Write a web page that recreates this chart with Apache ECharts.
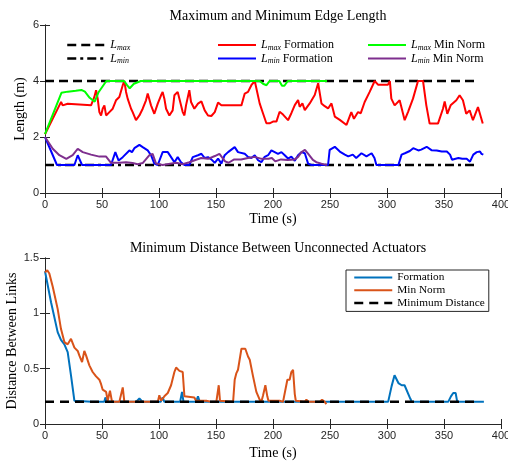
<!DOCTYPE html>
<html>
<head>
<meta charset="utf-8">
<script src="https://cdn.jsdelivr.net/npm/echarts@6/dist/echarts.min.js"></script>
<style>
  html, body { margin: 0; padding: 0; background: #fff; }
  #chart { width: 508px; height: 464px; }
</style>
</head>
<body>
<div id="chart"></div>
<script>
// top panel: edge length (m) vs time (s)
const limT = [0, 378]
const lmaxY = [4, 4]
const lminY = [1, 1]

const fmaxT = [0, 12.6, 14.1, 15.5, 19.9, 21.4, 40.4, 43.3, 44.8, 46.2, 47.7, 49.2, 50.6, 52.1, 53.6, 56.5, 59.4, 62.3, 65.2, 68.2, 69.6, 71.1, 72.5, 74, 75.5, 76.9, 79.8, 82.8, 85.7, 88.6, 90.1, 93, 95.9, 98.9, 101.8, 103.2, 104.7, 106.2, 109.1, 112, 113.5, 116.4, 117.9, 120.8, 122.3, 123.7, 126.6, 128.1, 131, 134.2, 137.2, 140.1, 143, 145.9, 148.9, 151.8, 154.7, 172.3, 175.2, 178.1, 181, 184, 185.4, 188.3, 191.2, 194.2, 197, 200, 203, 205.8, 208.8, 213.2, 216.1, 219.1, 222, 223.4, 225.8, 227.9, 232.2, 236.6, 239.6, 241, 242.5, 245.4, 248.3, 251.3, 254.2, 258.6, 264.5, 268.7, 271, 274.6, 277, 280.4, 284.8, 289.2, 292.1, 300.9, 302.5, 303.8, 306.7, 311.1, 315.5, 318.4, 322.8, 327.2, 331.6, 334.5, 337.4, 344.7, 349.1, 350.6, 352.9, 355.8, 360.8, 363.7, 366.6, 369.5, 372.5, 375.4, 379.8, 381.5, 384]
const fmaxY = [2.1, 3.13, 3.25, 3.13, 3.19, 3.13, 3.13, 3.43, 3.67, 3.37, 2.89, 2.77, 3.01, 3.13, 2.77, 2.89, 3.01, 3.31, 3.43, 3.85, 4.0, 3.61, 3.37, 3.31, 3.01, 2.89, 2.6, 2.77, 3.01, 3.31, 3.55, 3.13, 2.83, 3.19, 3.49, 3.61, 3.37, 3.01, 2.77, 2.95, 3.49, 3.61, 3.37, 2.89, 2.77, 3.13, 3.67, 3.25, 3.01, 3.19, 3.27, 2.95, 2.77, 2.75, 2.89, 3.23, 3.13, 3.13, 3.55, 3.61, 3.85, 4.0, 4.0, 3.2, 2.85, 2.49, 2.49, 2.55, 2.55, 2.9, 2.8, 2.6, 2.85, 3.14, 3.32, 3.08, 3.2, 2.96, 3.2, 3.5, 3.92, 3.92, 3.2, 3.1, 3.02, 3.2, 2.73, 2.61, 2.43, 2.89, 2.65, 2.89, 2.85, 3.25, 3.61, 4.0, 3.87, 3.87, 4.0, 3.37, 3.13, 3.31, 2.6, 2.89, 3.37, 4.0, 4.0, 3.13, 2.48, 2.48, 3.01, 3.27, 2.83, 3.13, 3.31, 3.49, 3.31, 2.83, 2.95, 2.6, 3.07, 3.0, 2.48]

const fminT = [0, 10.5, 25.8, 28.7, 32.5, 57.9, 61.7, 64.6, 68.2, 74, 76.3, 78.4, 82.8, 85.7, 90.1, 93, 95.9, 98.9, 103.2, 107.7, 110.6, 113.5, 116.4, 119.3, 122.3, 126.6, 129.6, 131.3, 134.2, 137.2, 140.1, 143, 145.9, 148.9, 151.8, 154.7, 157.6, 160.6, 166.4, 169.3, 175.2, 178.1, 181, 184, 186.9, 189.8, 192.7, 195.7, 198.6, 201.5, 204.4, 207.4, 210.3, 213.2, 216.1, 219.1, 222, 224.9, 227.9, 230.8, 233.7, 248.3, 249.7, 254.2, 258.6, 263, 266, 270, 273, 277.6, 282, 286.5, 289, 290.7, 310, 312.8, 315.7, 320, 323, 327.5, 330, 334.8, 339, 343.6, 348, 352.5, 355.3, 357, 358, 362.6, 366, 369.9, 372.8, 375.7, 378.7, 381.6, 382.8, 384.5]
const fminY = [2.0, 1.0, 1.0, 1.35, 1.0, 1.0, 1.46, 1.16, 1.28, 1.52, 1.46, 1.6, 1.72, 1.64, 1.52, 1.35, 1.05, 1.0, 1.46, 1.46, 1.28, 1.1, 1.28, 1.1, 1.0, 1.0, 1.28, 1.29, 1.35, 1.4, 1.25, 1.28, 1.2, 1.08, 1.23, 1.05, 1.35, 1.46, 1.64, 1.46, 1.4, 1.29, 1.25, 1.35, 1.17, 1.1, 1.29, 1.35, 1.52, 1.46, 1.4, 1.46, 1.35, 1.23, 1.3, 1.15, 1.35, 1.46, 1.42, 1.05, 1.0, 1.0, 1.54, 1.65, 1.48, 1.37, 1.31, 1.37, 1.25, 1.42, 1.31, 1.42, 1.25, 1.0, 1.0, 1.37, 1.42, 1.5, 1.6, 1.52, 1.55, 1.65, 1.53, 1.52, 1.48, 1.48, 1.37, 1.19, 1.25, 1.25, 1.22, 1.22, 1.12, 1.37, 1.46, 1.48, 1.4, 1.37]

const nmaxT = [0, 14.4, 20, 27, 31.9, 35, 39.2, 43.6, 47, 53.8, 69.4, 72, 74.3, 78, 84, 188.4, 191.2, 194.3, 197, 205.5, 207.9, 210, 213, 247.4]
const nmaxY = [2.1, 3.58, 3.62, 3.65, 3.68, 3.62, 3.4, 3.26, 3.6, 4.0, 4.0, 3.85, 3.74, 3.9, 4.0, 4.0, 3.9, 3.85, 4.0, 4.0, 3.83, 3.83, 4.0, 4.0]

const nminT = [0, 6.8, 12.6, 18.7, 24.3, 28.7, 33.1, 40.4, 47.7, 53.6, 57.9, 65.2, 71.1, 76.9, 81.3, 85.7, 91.6, 94.4, 97.4, 103.2, 115, 120.8, 126.6, 131.3, 137, 143, 149, 153, 158, 161, 166, 172, 178, 184, 190, 196, 199, 202, 207, 213, 219, 222, 225, 228, 230.9, 235, 238, 242.5, 247.4]
const nminY = [2.0, 1.58, 1.35, 1.22, 1.35, 1.58, 1.46, 1.37, 1.3, 1.3, 1.08, 1.08, 1.1, 1.07, 1.03, 1.07, 1.35, 1.4, 1.05, 1.0, 1.08, 1.03, 1.1, 1.17, 1.25, 1.22, 1.32, 1.4, 1.13, 1.08, 1.2, 1.2, 1.25, 1.29, 1.22, 1.22, 1.25, 1.13, 1.2, 1.18, 1.2, 1.29, 1.46, 1.54, 1.4, 1.18, 1.1, 1.05, 1.0]

// bottom panel: min distance between unconnected actuators
const distT = [0, 5.3, 11.1, 14, 17, 19.9, 22.8, 25.8, 27.2, 41, 41.8, 45, 52, 53, 54.5, 79.8, 82.8, 85.7, 101.5, 103.2, 104.7, 118.5, 120.2, 121.5, 132.5, 134.2, 135.7, 301, 304, 306.6, 310, 312.9, 315.4, 320.4, 321.8, 353.7, 356.1, 358.1, 360.2, 361.6, 385]
const distY = [1.38, 1.1, 0.83, 0.76, 0.72, 0.65, 0.44, 0.21, 0.2, 0.2, 0.21, 0.2, 0.2, 0.24, 0.2, 0.2, 0.23, 0.2, 0.2, 0.24, 0.2, 0.2, 0.29, 0.2, 0.2, 0.25, 0.2, 0.2, 0.34, 0.44, 0.37, 0.35, 0.35, 0.23, 0.2, 0.2, 0.25, 0.28, 0.28, 0.2, 0.2]

const normT = [0, 2, 3.8, 6.8, 11.1, 14, 17, 19.9, 22.8, 25.8, 28.7, 30.1, 32.5, 34.5, 36, 38.9, 41.8, 44.8, 47.7, 49.2, 50.6, 53.6, 55, 57, 58.8, 65.2, 68.2, 69.6, 98.9, 100.3, 101.8, 104.7, 107.7, 110.6, 113.5, 115, 117.9, 120.8, 122.3, 123.7, 131, 132.5, 141.5, 145.9, 150.3, 152.4, 153.5, 165, 166.4, 167.9, 169.3, 172.3, 173.7, 175.7, 178.1, 179.6, 182.5, 185.4, 188.3, 189.8, 191.3, 193.3, 195, 196, 205.8, 207.4, 208.8, 212.6, 214.6, 216.1, 217.6, 219.1, 220, 227.9, 229.3, 231, 240.9, 243, 245.4, 246.8]
const normY = [1.37, 1.39, 1.36, 1.24, 1.04, 0.86, 0.74, 0.72, 0.77, 0.69, 0.66, 0.62, 0.56, 0.66, 0.62, 0.53, 0.47, 0.43, 0.4, 0.36, 0.31, 0.29, 0.21, 0.3, 0.2, 0.2, 0.33, 0.2, 0.2, 0.26, 0.21, 0.25, 0.28, 0.35, 0.47, 0.51, 0.48, 0.47, 0.25, 0.24, 0.24, 0.21, 0.21, 0.2, 0.2, 0.35, 0.21, 0.2, 0.4, 0.46, 0.49, 0.68, 0.69, 0.68, 0.61, 0.58, 0.43, 0.29, 0.22, 0.2, 0.26, 0.35, 0.25, 0.21, 0.21, 0.22, 0.2, 0.4, 0.4, 0.47, 0.49, 0.27, 0.21, 0.2, 0.22, 0.2, 0.2, 0.22, 0.2, 0.18]

const minDistY = [0.2, 0.2]

const topYTicks = [0, 2, 4, 6]
const botYTicks = [0, 0.5, 1, 1.5]
const xTicks = [0, 50, 100, 150, 200, 250, 300, 350, 400]

const serif = 'Liberation Serif'
const sans = 'Liberation Sans'
const axisColor = '#262626'

function zip(t, y) {
  return t.map((v, i) => [v, y[i]])
}

function xAxisOpt(grid, pos, withLabel, gap) {
  return {
    type: 'value',
    gridIndex: grid,
    position: pos,
    min: xTicks[0],
    max: xTicks[xTicks.length - 1],
    interval: 50,
    splitLine: { show: false },
    axisLine: { show: true, lineStyle: { color: axisColor, width: 1 } },
    axisTick: { show: true, inside: true, length: 5, lineStyle: { color: axisColor } },
    axisLabel: { show: withLabel, color: axisColor, fontFamily: sans, fontSize: 11, margin: 6 },
    name: withLabel ? 'Time (s)' : '',
    nameLocation: 'middle',
    nameGap: gap || 0,
    nameMoveOverlap: false,
    nameTextStyle: { fontFamily: serif, fontSize: 14, color: '#000' }
  }
}

function yAxisOpt(grid, pos, ticks, name, gap, withLabel) {
  return {
    type: 'value',
    gridIndex: grid,
    position: pos,
    min: ticks[0],
    max: ticks[ticks.length - 1],
    interval: ticks[1] - ticks[0],
    splitLine: { show: false },
    axisLine: { show: true, lineStyle: { color: axisColor, width: 1 } },
    axisTick: { show: true, inside: true, length: 5, lineStyle: { color: axisColor } },
    axisLabel: { show: withLabel, color: axisColor, fontFamily: sans, fontSize: 11, margin: 6 },
    name: withLabel ? name : '',
    nameLocation: 'middle',
    nameGap: gap,
    nameMoveOverlap: false,
    nameTextStyle: { fontFamily: serif, fontSize: 14, color: '#000' }
  }
}

function line(name, t, y, color, width, dash, xi) {
  return {
    name: name,
    type: 'line',
    xAxisIndex: xi,
    yAxisIndex: xi,
    data: zip(t, y),
    symbol: 'none',
    lineStyle: { color: color, width: width, type: dash || 'solid' },
    itemStyle: { color: color }
  }
}

const rich = {
  i: { fontFamily: serif, fontStyle: 'italic', fontSize: 12, color: '#000' },
  s: { fontFamily: serif, fontStyle: 'italic', fontSize: 8, color: '#000', padding: [5, 0, 0, 0] },
  r: { fontFamily: serif, fontSize: 12, color: '#000' }
}

function fmtL(name) {
  const m = name.match(/^L(max|min)(.*)$/)
  if (!m) return name
  return '{i|L}{s|' + m[1] + '}{r|' + m[2] + '}'
}

function topLegend(left, data) {
  return {
    orient: 'vertical',
    left: left,
    top: 39,
    padding: 0,
    itemWidth: 38,
    itemHeight: 12,
    itemGap: 1,
    data: data,
    formatter: fmtL,
    textStyle: { fontFamily: serif, fontSize: 12, color: '#000', rich: rich },
    itemStyle: { opacity: 0 },
    lineStyle: { width: 'inherit' }
  }
}

const chart = echarts.init(document.getElementById('chart'))
chart.setOption({
  animation: false,
  backgroundColor: '#fff',
  title: [
    { text: 'Maximum and Minimum Edge Length', left: 273, textAlign: 'center', top: 4,
      textStyle: { fontFamily: serif, fontSize: 14, fontWeight: 'normal', color: '#000' } },
    { text: 'Minimum Distance Between Unconnected Actuators', left: 273, textAlign: 'center', top: 236,
      textStyle: { fontFamily: serif, fontSize: 14, fontWeight: 'normal', color: '#000' } }
  ],
  grid: [
    { left: 45, width: 456, top: 25, height: 168, outerBoundsMode: 'none' },
    { left: 45, width: 456, top: 258, height: 166, outerBoundsMode: 'none' }
  ],
  xAxis: [
    xAxisOpt(0, 'bottom', true, 19),
    xAxisOpt(1, 'bottom', true, 22),
    xAxisOpt(0, 'top', false),
    xAxisOpt(1, 'top', false)
  ],
  yAxis: [
    yAxisOpt(0, 'left', topYTicks, 'Length (m)', 18, true),
    yAxisOpt(1, 'left', botYTicks, 'Distance Between Links', 26, true),
    yAxisOpt(0, 'right', topYTicks, '', 0, false),
    yAxisOpt(1, 'right', botYTicks, '', 0, false)
  ],
  legend: [
    topLegend(66, ['Lmax', 'Lmin']),
    topLegend(217, ['Lmax Formation', 'Lmin Formation']),
    topLegend(367, ['Lmax Min Norm', 'Lmin Min Norm']),
    {
      orient: 'vertical',
      left: 346,
      top: 270,
      padding: [2, 4, 3, 7],
      itemWidth: 38,
      itemHeight: 12,
      itemGap: 1.7,
      borderColor: axisColor,
      borderWidth: 1,
      borderRadius: 0,
      backgroundColor: '#fff',
      data: ['Formation', 'Min Norm', 'Minimum Distance'],
      textStyle: { fontFamily: serif, fontSize: 11.3, color: '#000' },
      itemStyle: { opacity: 0 },
      lineStyle: { width: 'inherit' }
    }
  ],
  series: [
    line('Lmax', limT, lmaxY, '#000', 2.5, [9, 5], 0),
    line('Lmin', limT, lminY, '#000', 2.5, [9, 4, 3, 4], 0),
    line('Lmax Formation', fmaxT, fmaxY, '#ff0000', 2, null, 0),
    line('Lmin Formation', fminT, fminY, '#0000ff', 2, null, 0),
    line('Lmax Min Norm', nmaxT, nmaxY, '#00ff00', 2, null, 0),
    line('Lmin Min Norm', nminT, nminY, '#7e2f8e', 2, null, 0),
    line('Formation', distT, distY, '#0072bd', 2, null, 1),
    line('Min Norm', normT, normY, '#d95319', 2, null, 1),
    line('Minimum Distance', limT, minDistY, '#000', 2.5, [9, 6], 1)
  ]
})
</script>
</body>
</html>
